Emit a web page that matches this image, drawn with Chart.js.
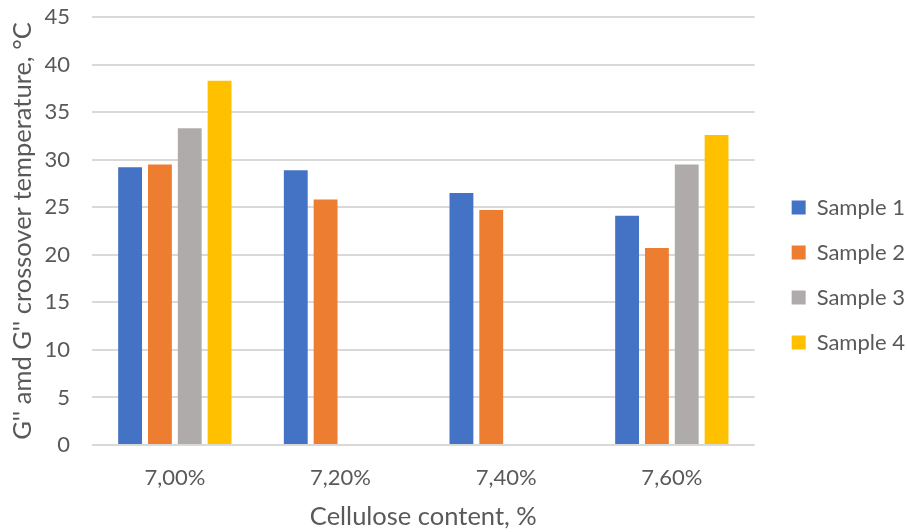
<!DOCTYPE html>
<html lang="en">
<head>
  <meta charset="UTF-8" />
  <title>Crossover temperature vs cellulose content</title>
  <script src="https://cdn.jsdelivr.net/npm/chart.js"></script>
  <style>
    body { margin: 0; background: #fff; }
    #wrap { width: 907px; height: 532px; }
  </style>
</head>
<body>
  <div id="wrap"><canvas id="crossover" width="907" height="532"></canvas></div>
  <script>
    const categories = ['7,00%', '7,20%', '7,40%', '7,60%'];
    const sample1 = [29.2, 28.9, 26.5, 24.1];
    const sample2 = [29.5, 25.8, 24.7, 20.7];
    const sample3 = [33.3, null, null, 29.5];
    const sample4 = [38.3, null, null, 32.6];
    const yTicks = [0, 5, 10, 15, 20, 25, 30, 35, 40, 45];

    const textColor = '#595959';
    const gridColor = '#d9d9d9';

    Chart.defaults.font.family = 'Lato, "Open Sans", sans-serif';
    Chart.defaults.color = textColor;

    const series = [
      { label: 'Sample 1', data: sample1, color: '#4472c4' },
      { label: 'Sample 2', data: sample2, color: '#ed7d31' },
      { label: 'Sample 3', data: sample3, color: '#afabab' },
      { label: 'Sample 4', data: sample4, color: '#ffc000' }
    ];

    new Chart(document.getElementById('crossover'), {
      type: 'bar',
      data: {
        labels: categories,
        datasets: series.map(s => ({
          label: s.label,
          data: s.data,
          backgroundColor: s.color,
          borderWidth: 0,
          yAxisID: 'y',
          categoryPercentage: 0.72,
          barPercentage: 0.8
        }))
      },
      options: {
        responsive: false,
        animation: false,
        layout: { padding: { top: 0, right: -8, bottom: 0, left: 0 } },
        plugins: {
          tooltip: { enabled: false },
          legend: {
            position: 'right',
            // empty title only nudges the legend items down a little
            title: { display: true, text: '', font: { size: 10, lineHeight: 1 }, padding: 4 },
            labels: {
              boxWidth: 14,
              boxHeight: 14,
              padding: 23,
              color: textColor,
              font: { size: 22 }
            }
          }
        },
        scales: {
          x: {
            grid: { display: false, drawTicks: false },
            border: { display: false },
            ticks: { padding: 20, font: { size: 22 }, color: textColor },
            title: {
              display: true,
              text: 'Cellulose content, %',
              color: textColor,
              font: { size: 25.5 },
              padding: { top: 10, bottom: 0 }
            },
            afterFit: scale => { scale.height = 87; }
          },
          y: {
            min: 0,
            max: 45,
            afterBuildTicks: scale => { scale.ticks = yTicks.map(v => ({ value: v })); },
            grid: { color: gridColor, lineWidth: 2, drawTicks: false },
            border: { display: false },
            ticks: { padding: 22, font: { size: 22 }, color: textColor },
            title: {
              display: true,
              text: "G'' amd G'' crossover temperature, °C",
              color: textColor,
              font: { size: 25.5 },
              padding: { top: 7, bottom: 0 }
            },
            afterFit: scale => {
              scale.width = 92;
              scale.paddingTop = 17;
              scale.paddingBottom = 0;
            }
          },
          // spacer between the plot and the legend
          gap: {
            position: 'right',
            display: true,
            grid: { display: false, drawTicks: false },
            border: { display: false },
            ticks: { display: false },
            afterFit: scale => { scale.width = 14; }
          }
        }
      }
    });
  </script>
</body>
</html>
